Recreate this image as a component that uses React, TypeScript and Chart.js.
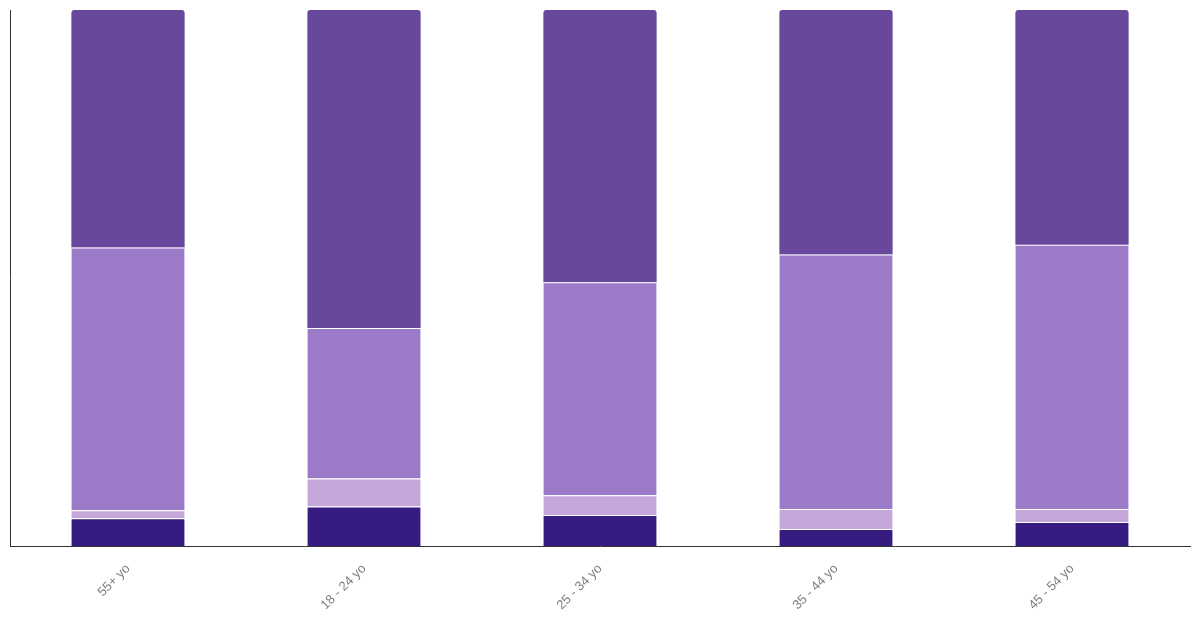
import React, { useEffect, useRef } from "react";
import { Chart, registerables } from "chart.js";

Chart.register(...registerables);

const categories = ["55+ yo", "18 - 24 yo", "25 - 34 yo", "35 - 44 yo", "45 - 54 yo"];
const seriesA = [5.2, 7.4, 5.8, 3.2, 4.5];
const seriesB = [1.5, 5.2, 3.7, 3.7, 2.4];
const seriesC = [49.0, 28.1, 39.7, 47.5, 49.3];
const seriesD = [44.3, 59.3, 50.8, 45.6, 43.8];

export default function App() {
  const ref = useRef<HTMLCanvasElement | null>(null);
  useEffect(() => {
    if (!ref.current) return;
    const common = {
      borderColor: "#ffffff",
      borderWidth: { top: 1, left: 0, right: 0, bottom: 0 },
      borderSkipped: "start" as const,
      barPercentage: 0.6,
      categoryPercentage: 0.8,
    };
    const chart = new Chart(ref.current, {
      type: "bar",
      data: {
        labels: categories,
        datasets: [
          { label: "A", data: seriesA, backgroundColor: "#361c80", ...common },
          { label: "B", data: seriesB, backgroundColor: "#c4a8dc", ...common },
          { label: "C", data: seriesC, backgroundColor: "#9b7bc8", ...common },
          {
            label: "D",
            data: seriesD,
            backgroundColor: "#68489c",
            ...common,
            borderWidth: 0,
            borderRadius: { topLeft: 3, topRight: 3, bottomLeft: 0, bottomRight: 0 },
          },
        ],
      },
      options: {
        responsive: false,
        animation: false,
        layout: { padding: { left: 10, top: 10, right: 10, bottom: 0 } },
        plugins: { legend: { display: false }, tooltip: { enabled: false } },
        scales: {
          x: {
            stacked: true,
            grid: { display: false, drawTicks: false },
            border: { display: true, color: "#333333", width: 1 },
            ticks: {
              minRotation: 45,
              maxRotation: 45,
              padding: 15,
              color: "#808080",
              font: { family: "'Liberation Sans', Arial, sans-serif", size: 13 },
            },
          },
          y: {
            stacked: true,
            min: 0,
            max: 100,
            grid: { display: false, drawTicks: false },
            border: { display: true, color: "#333333", width: 1 },
            ticks: { display: false },
          },
        },
      },
    });
    return () => chart.destroy();
  }, []);
  return (
    <div style={{ position: "absolute", left: 0, top: 0, width: 1200, height: 628, background: "#fff" }}>
      <canvas ref={ref} width={1200} height={628} style={{ width: 1200, height: 628 }} />
    </div>
  );
}
